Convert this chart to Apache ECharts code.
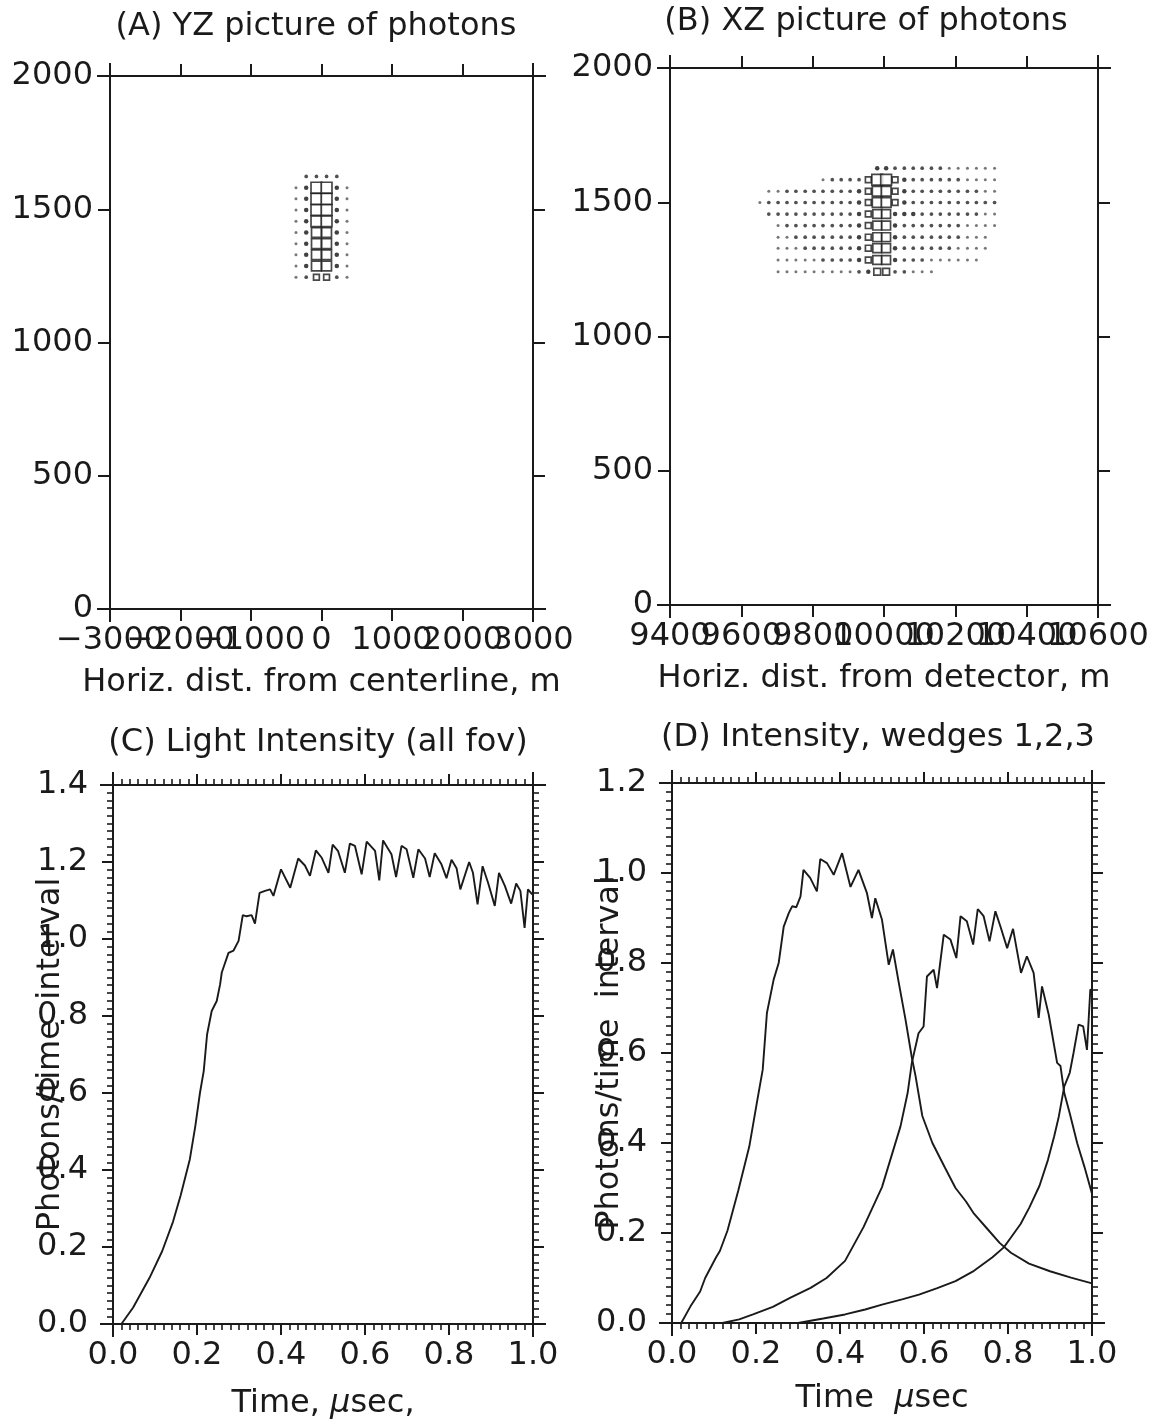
<!DOCTYPE html>
<html><head><meta charset="utf-8">
<script src="https://cdn.jsdelivr.net/npm/echarts@6/dist/echarts.min.js"></script>
<style>html,body{margin:0;padding:0;background:#fff}#c{width:1155px;height:1421px}</style>
</head><body><div id="c"></div>
<script>
const FONT = 'DejaVu Sans';
const INK = '#1a1a1a';

// ---------- Panel A: YZ picture (columns = horizontal dist, rows = altitude) ----------
const aCols = [-362, -217, -72, 72, 217, 362];
const aRows = [1245, 1287, 1329, 1371, 1413, 1455, 1497, 1539, 1581, 1623];
const aCells = [
  [1, 2, 4, 4, 2, 1],
  [1, 3, 8, 8, 3, 1],
  [1, 3, 8, 8, 3, 1],
  [1, 3, 8, 8, 3, 1],
  [1, 3, 8, 8, 3, 1],
  [1, 3, 9, 9, 3, 1],
  [1, 3, 9, 9, 3, 1],
  [1, 3, 9, 9, 3, 1],
  [1, 3, 9, 9, 3, 1],
  [0, 2, 2, 2, 2, 0]
];
const aXLabels = ['\u22123000', '\u22122000', '\u22121000', '0', '1000', '2000', '3000'];
const aYLabels = ['0', '500', '1000', '1500', '2000'];

// ---------- Panel B: XZ picture ----------
const bCols = [9652, 9677, 9703, 9728, 9753, 9779, 9804, 9829, 9855, 9880, 9905, 9930, 9956,
               9981, 10006, 10031, 10057, 10082, 10107, 10133, 10158, 10183, 10208, 10234, 10259, 10284, 10310];
const bRows = [1241, 1285, 1329, 1370, 1413, 1456, 1499, 1541, 1584, 1627];
const bCells = [
  "001111111112355221110000000",
  "001111122223477322211111100",
  "001112222223477322222211110",
  "001122222223477322222221110",
  "001222222223477322222221111",
  "022222222223477333222222211",
  "122222222223488432222222222",
  "011222222223488432222222211",
  "000000012222499432222221111",
  "000000000000033222222111111"
];
const bXLabels = ['9400', '9600', '9800', '10000', '10200', '10400', '10600'];
const bYLabels = ['0', '500', '1000', '1500', '2000'];

// ---------- Panel C: light intensity (all fov) ----------
const cT = [0.02,0.048,0.087,0.117,0.143,0.161,0.183,0.196,0.207,0.216,0.224,0.235,0.247,0.255,0.259,0.275,0.287,0.299,0.309,0.318,0.330,0.338,0.349,0.362,0.374,0.382,0.400,0.422,0.441,0.457,0.469,0.483,0.497,0.513,0.523,0.536,0.552,0.564,0.576,0.592,0.604,0.624,0.634,0.643,0.663,0.674,0.687,0.699,0.715,0.727,0.743,0.754,0.766,0.782,0.794,0.806,0.818,0.827,0.848,0.857,0.868,0.880,0.893,0.909,0.919,0.933,0.948,0.960,0.970,0.980,0.988,0.998];
const cV = [0.000,0.043,0.120,0.189,0.266,0.334,0.428,0.514,0.600,0.657,0.752,0.813,0.839,0.882,0.913,0.964,0.970,0.995,1.062,1.059,1.062,1.040,1.120,1.125,1.129,1.112,1.181,1.133,1.209,1.191,1.164,1.230,1.211,1.172,1.245,1.228,1.172,1.248,1.242,1.168,1.253,1.229,1.152,1.256,1.220,1.161,1.242,1.233,1.159,1.233,1.209,1.161,1.223,1.194,1.158,1.206,1.184,1.129,1.200,1.172,1.090,1.189,1.146,1.086,1.172,1.138,1.092,1.144,1.125,1.029,1.129,1.116];

// ---------- Panel D: intensity, wedges 1,2,3 ----------
const d1T = [0.022,0.044,0.067,0.079,0.105,0.114,0.132,0.158,0.184,0.202,0.216,0.226,0.242,0.254,0.266,0.278,0.286,0.296,0.306,0.313,0.329,0.345,0.353,0.369,0.385,0.405,0.425,0.444,0.464,0.476,0.484,0.500,0.516,0.526,0.540,0.556,0.571,0.580,0.596,0.620,0.650,0.675,0.700,0.719,0.750,0.780,0.807,0.850,0.900,0.950,1.000];
const d1V = [0,0.037,0.07,0.1,0.146,0.16,0.205,0.295,0.392,0.489,0.563,0.689,0.763,0.800,0.881,0.911,0.926,0.924,0.948,1.007,0.989,0.959,1.031,1.022,0.996,1.044,0.969,1.007,0.956,0.900,0.944,0.896,0.796,0.830,0.756,0.674,0.590,0.548,0.460,0.400,0.345,0.300,0.270,0.243,0.210,0.178,0.156,0.132,0.115,0.101,0.088];
const d2T = [0.12,0.160,0.193,0.240,0.281,0.330,0.368,0.412,0.456,0.500,0.544,0.561,0.571,0.587,0.599,0.607,0.623,0.631,0.647,0.663,0.677,0.687,0.702,0.717,0.728,0.742,0.756,0.770,0.782,0.798,0.812,0.831,0.845,0.861,0.873,0.881,0.897,0.917,0.925,0.934,0.947,0.965,0.982,1.000];
const d2V = [0,0.008,0.019,0.036,0.056,0.078,0.100,0.138,0.213,0.302,0.437,0.511,0.578,0.644,0.659,0.770,0.785,0.744,0.863,0.852,0.811,0.904,0.893,0.841,0.920,0.904,0.848,0.915,0.881,0.833,0.876,0.778,0.815,0.778,0.678,0.748,0.685,0.578,0.571,0.511,0.466,0.399,0.347,0.287];
const d3T = [0.30,0.360,0.412,0.460,0.500,0.550,0.588,0.630,0.675,0.719,0.763,0.790,0.807,0.830,0.851,0.875,0.895,0.910,0.921,0.934,0.947,0.956,0.968,0.979,0.988,0.996,1.000];
const d3V = [0,0.010,0.019,0.030,0.041,0.053,0.063,0.077,0.093,0.116,0.146,0.168,0.190,0.220,0.257,0.305,0.362,0.415,0.459,0.526,0.556,0.600,0.663,0.659,0.607,0.741,0.740];
const timeLabels = ['0.0', '0.2', '0.4', '0.6', '0.8', '1.0', '1.2', '1.4'];

// ---------- helpers ----------
const zip = (xs, ys) => xs.map((x, i) => [x, ys[i]]);
function cellPoints(cols, rows, cells) {
  const pts = [];
  rows.forEach((z, r) => {
    const row = cells[r];
    cols.forEach((x, c) => {
      const v = typeof row === 'string' ? Number(row[c]) : row[c];
      if (v > 0) pts.push([x, z, v]);
    });
  });
  return pts;
}
const DOT_SIZE = [0, 3.0, 3.7, 4.5];
const DOT_COL = ['#fff', '#555555', '#262626', '#111111'];
const symSize = val => val[2] <= 3 ? DOT_SIZE[val[2]] : val[2] + 1.8;

const grids = [
  { left: 110, top: 76, width: 423, height: 533 },
  { left: 670, top: 68, width: 428, height: 537 },
  { left: 113, top: 785, width: 420, height: 539 },
  { left: 672, top: 783, width: 420, height: 540 }
];
const ranges = [
  { x: [-3000, 3000, 1000], y: [0, 2000, 500], xl: aXLabels, yl: aYLabels, minor: false },
  { x: [9400, 10600, 200], y: [0, 2000, 500], xl: bXLabels, yl: bYLabels, minor: false },
  { x: [0, 1, 0.2], y: [0, 1.4, 0.2], xl: timeLabels, yl: timeLabels, minor: true },
  { x: [0, 1, 0.2], y: [0, 1.2, 0.2], xl: timeLabels, yl: timeLabels, minor: true }
];
const names = [
  { x: 'Horiz. dist. from centerline, m', y: '', gap: 58 },
  { x: 'Horiz. dist. from detector, m', y: '', gap: 58 },
  { x: 'Time, {i|\u03bc}sec,', y: 'Photons/time  interval', gap: 64 },
  { x: 'Time  {i|\u03bc}sec', y: 'Photons/time  interval', gap: 60 }
];

const baseText = { fontFamily: FONT, fontSize: 32, color: INK };
const rich = { i: { fontFamily: FONT, fontSize: 32, fontStyle: 'italic', color: INK } };
const idxOf = (v, min, step) => Math.round((v - min) / step);

const xAxes = [], yAxes = [];
const extraX = [];
grids.forEach((g, k) => {
  const r = ranges[k];
  // in panels A and B the crowded labels are split over two label rows on the same line
  const split = !r.minor;
  ['bottom', 'top'].forEach(pos => {
    xAxes.push({
      type: 'value', gridIndex: k, position: pos, min: r.x[0], max: r.x[1], interval: r.x[2],
      axisLine: { show: true, onZero: false, lineStyle: { color: INK, width: 2 } },
      axisTick: { show: true, inside: false, length: r.minor ? 11 : 12, lineStyle: { color: INK, width: 2 } },
      minorTick: { show: r.minor, splitNumber: 10, length: 6, lineStyle: { color: INK, width: 1.6 } },
      splitLine: { show: false }, minorSplitLine: { show: false },
      axisLabel: Object.assign({ show: pos === 'bottom', margin: 16, showMinLabel: true, showMaxLabel: true, hideOverlap: false,
        formatter: v => { const i = idxOf(v, r.x[0], r.x[2]); return (!split || i % 2 === 0) ? r.xl[i] : ''; } }, baseText),
      name: pos === 'bottom' ? names[k].x : '', nameLocation: 'middle', nameGap: names[k].gap, nameMoveOverlap: false,
      nameTextStyle: Object.assign({ rich: rich }, baseText)
    });
  });
  if (split) {
    extraX.push({
      type: 'value', gridIndex: k, position: 'bottom', offset: 0, min: r.x[0], max: r.x[1], interval: r.x[2],
      axisLine: { show: false, onZero: false }, axisTick: { show: false }, splitLine: { show: false },
      axisLabel: Object.assign({ show: true, margin: 16, showMinLabel: true, showMaxLabel: true, hideOverlap: false,
        formatter: v => { const i = idxOf(v, r.x[0], r.x[2]); return i % 2 === 1 ? r.xl[i] : ''; } }, baseText)
    });
  }
  ['left', 'right'].forEach(pos => {
    yAxes.push({
      type: 'value', gridIndex: k, position: pos, min: r.y[0], max: r.y[1], interval: r.y[2],
      axisLine: { show: true, onZero: false, lineStyle: { color: INK, width: 2 } },
      axisTick: { show: true, inside: false, length: r.minor ? 11 : 12, lineStyle: { color: INK, width: 2 } },
      minorTick: { show: r.minor, splitNumber: 10, length: 6, lineStyle: { color: INK, width: 1.6 } },
      splitLine: { show: false }, minorSplitLine: { show: false },
      axisLabel: Object.assign({ show: pos === 'left', margin: k < 2 ? 17 : 25, showMinLabel: true, showMaxLabel: true, hideOverlap: false,
        formatter: v => r.yl[idxOf(v, r.y[0], r.y[2])] }, baseText),
      name: pos === 'left' ? names[k].y : '', nameLocation: 'middle', nameGap: 46, nameRotate: 90, nameMoveOverlap: false,
      nameTextStyle: Object.assign({}, baseText)
    });
  });
});
const allX = xAxes.concat(extraX);

const series = [];
[[aCols, aRows, aCells], [bCols, bRows, bCells]].forEach(([cols, rows, cells], k) => {
  const pts = cellPoints(cols, rows, cells);
  series.push({
    type: 'scatter', xAxisIndex: 2 * k, yAxisIndex: 2 * k, symbol: 'circle',
    data: pts.filter(p => p[2] <= 3), symbolSize: symSize,
    itemStyle: { color: p => DOT_COL[p.value[2]] }, silent: true
  });
  series.push({
    type: 'scatter', xAxisIndex: 2 * k, yAxisIndex: 2 * k, symbol: 'rect',
    data: pts.filter(p => p[2] > 3), symbolSize: symSize,
    itemStyle: { color: '#fff', borderColor: INK, borderWidth: 1.7 }, silent: true
  });
});
const lineSeries = (t, v, k) => ({
  type: 'line', xAxisIndex: 2 * k, yAxisIndex: 2 * k, data: zip(t, v),
  showSymbol: false, symbol: 'none', smooth: false,
  lineStyle: { color: INK, width: 1.9 }, silent: true
});
series.push(lineSeries(cT, cV, 2));
series.push(lineSeries(d1T, d1V, 3));
series.push(lineSeries(d2T, d2V, 3));
series.push(lineSeries(d3T, d3V, 3));

const chart = echarts.init(document.getElementById('c'), null, { renderer: 'canvas' });
chart.setOption({
  animation: false,
  backgroundColor: '#fff',
  grid: grids.map(g => Object.assign({ containLabel: false }, g)),
  xAxis: allX, yAxis: yAxes, series: series
});

// panel titles and over-shooting frame lines (computed from the axes' own scales)
const titles = [
  { text: '(A) YZ picture of photons', x: 316, y: 27 },
  { text: '(B) XZ picture of photons', x: 866, y: 22 },
  { text: '(C) Light Intensity (all fov)', x: 318, y: 743 },
  { text: '(D) Intensity, wedges 1,2,3', x: 878, y: 738 }
];
const elements = titles.map(t => ({
  type: 'text', x: t.x, y: t.y, silent: true,
  style: { text: t.text, fill: INK, font: '32px "DejaVu Sans"', textAlign: 'center', textVerticalAlign: 'middle' }
}));
const OV = 13;
grids.forEach((g, k) => {
  const r = ranges[k];
  const p0 = chart.convertToPixel({ xAxisIndex: 2 * k, yAxisIndex: 2 * k }, [r.x[0], r.y[0]]);
  const p1 = chart.convertToPixel({ xAxisIndex: 2 * k, yAxisIndex: 2 * k }, [r.x[1], r.y[1]]);
  const ls = { stroke: INK, lineWidth: 2 };
  [p0[1], p1[1]].forEach(y => elements.push({ type: 'line', silent: true, shape: { x1: p0[0] - OV, y1: y, x2: p1[0] + OV, y2: y }, style: ls }));
  [p0[0], p1[0]].forEach(x => elements.push({ type: 'line', silent: true, shape: { x1: x, y1: p1[1] - OV, x2: x, y2: p0[1] + OV }, style: ls }));
});
chart.setOption({ graphic: { elements: elements } });
</script>
</body></html>
